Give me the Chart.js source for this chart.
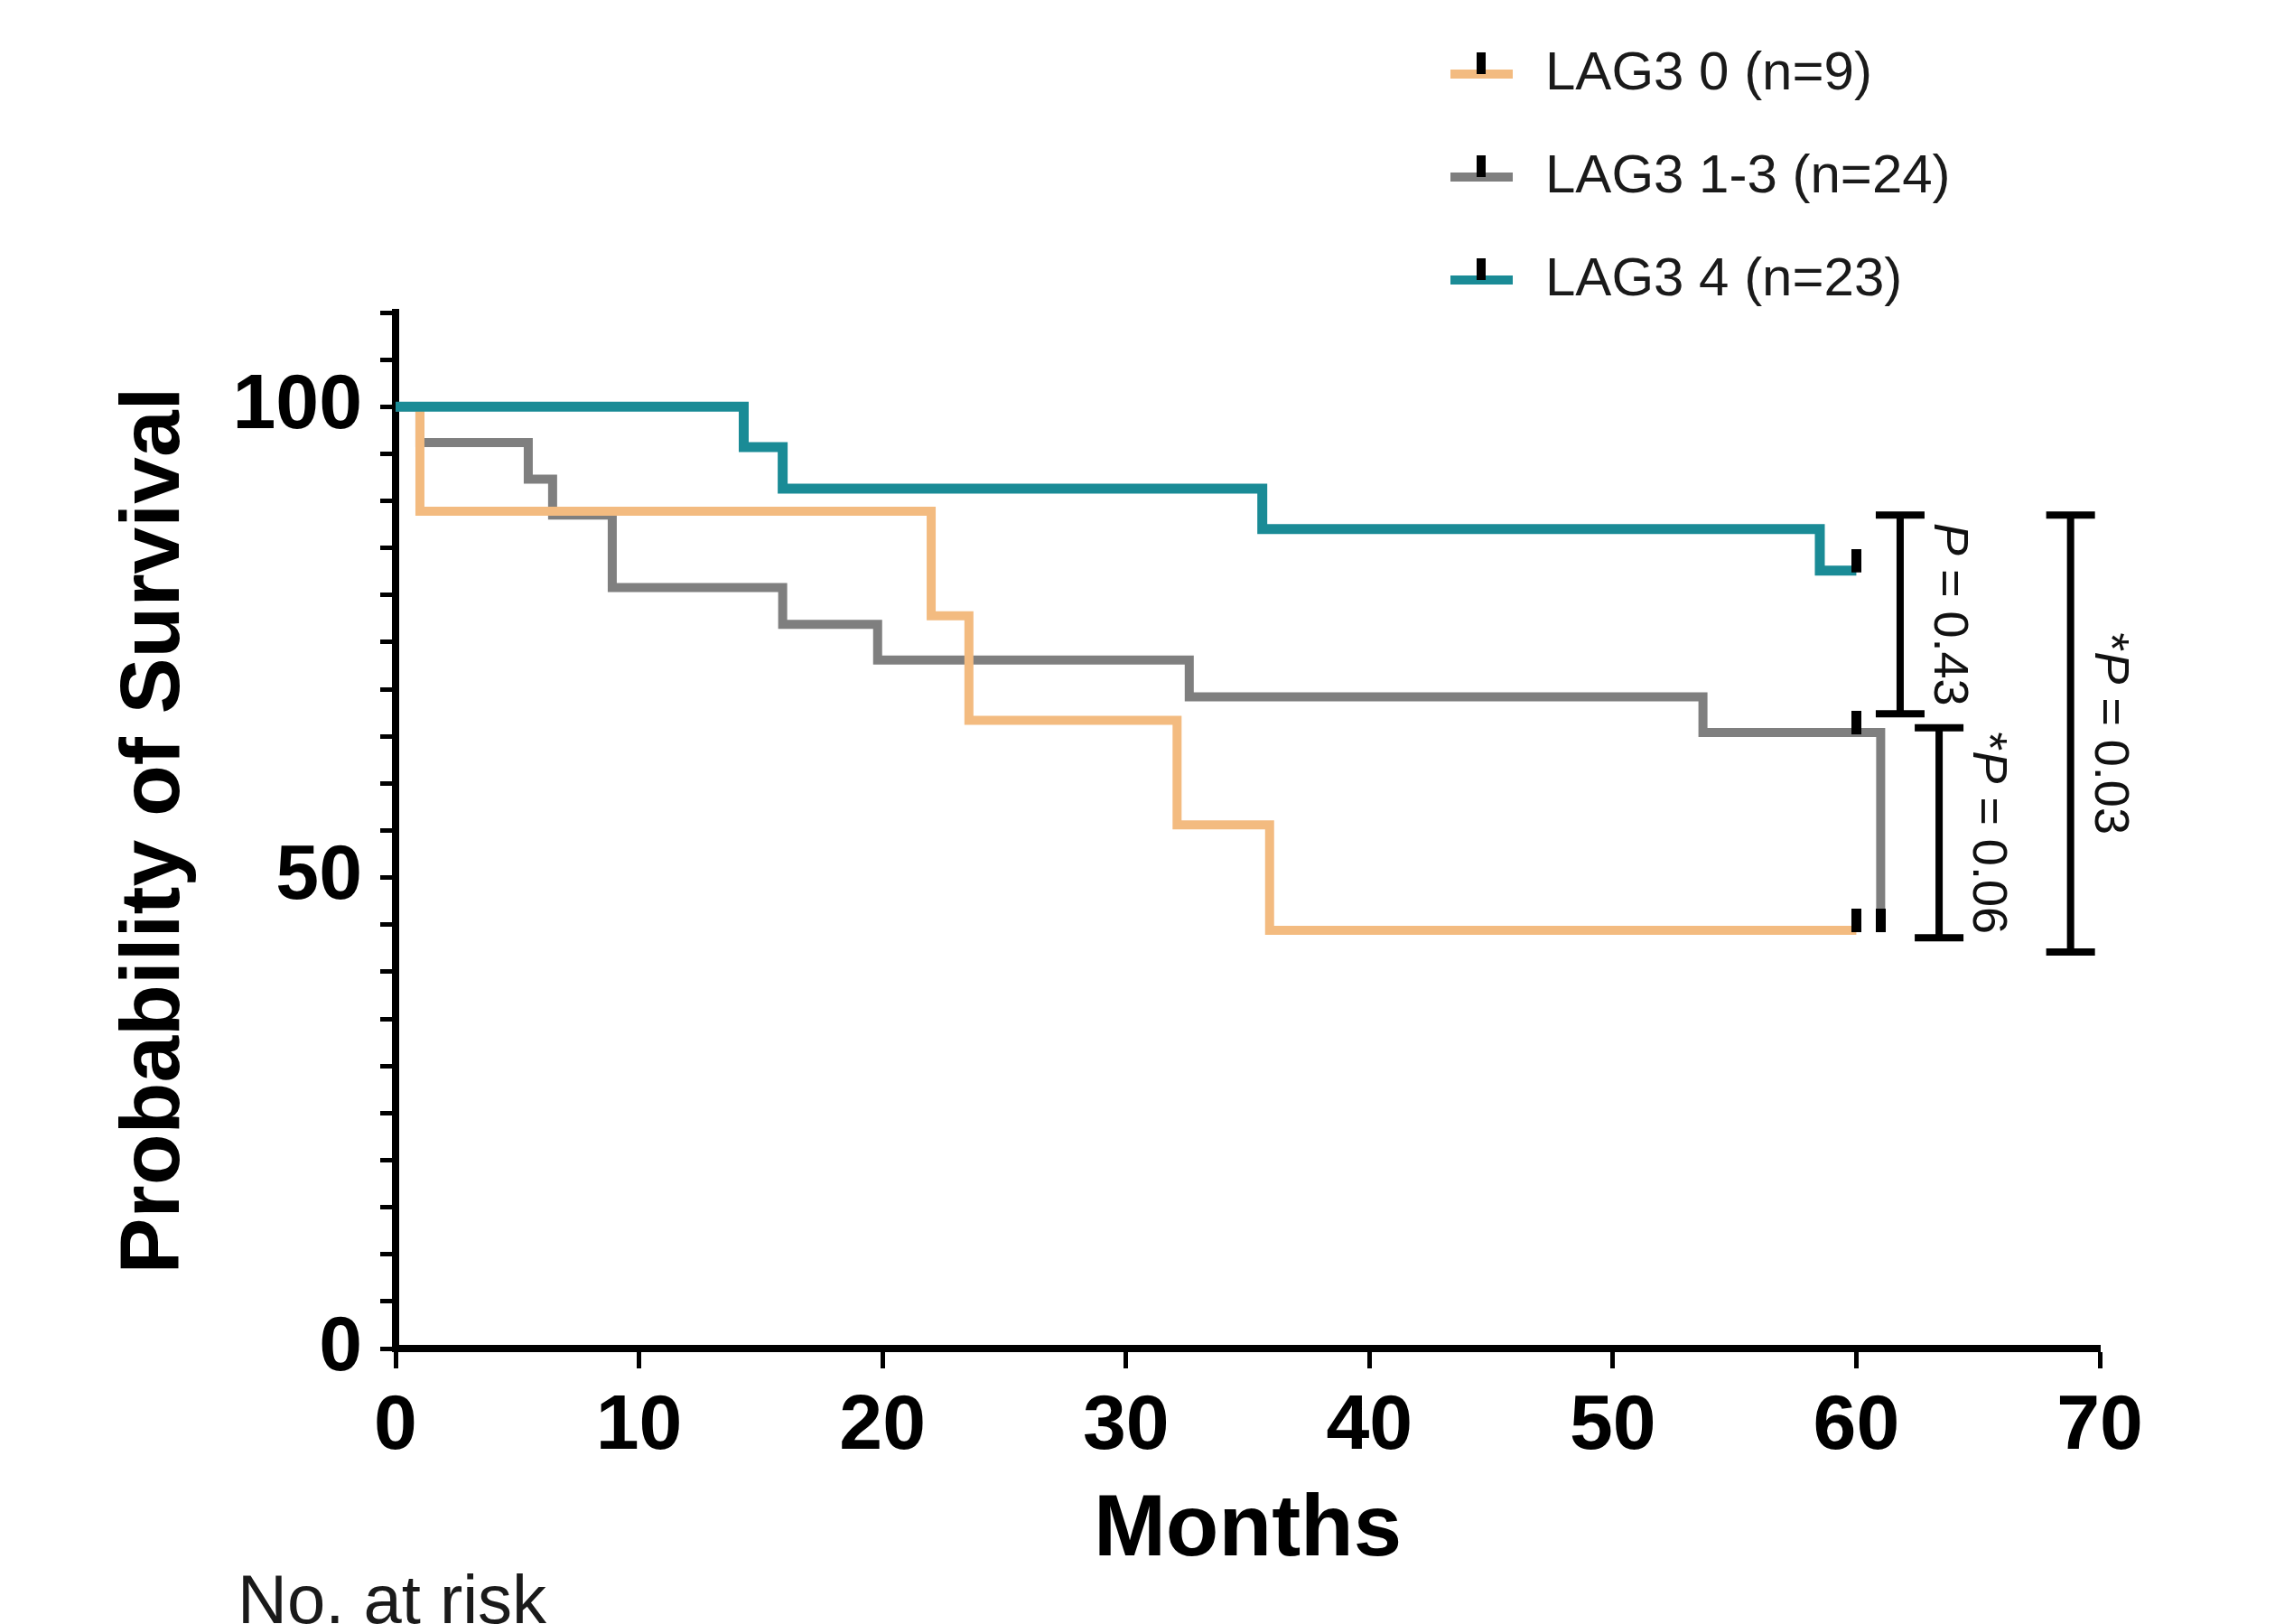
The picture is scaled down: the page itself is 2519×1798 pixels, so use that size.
<!DOCTYPE html>
<html>
<head>
<meta charset="utf-8">
<script src="https://cdn.jsdelivr.net/npm/chart.js"></script>
<style>
  html, body { margin: 0; padding: 0; background: #fff; }
  canvas { display: block; }
</style>
</head>
<body>
<canvas id="km" width="2519" height="1798"></canvas>
<script>
// Kaplan-Meier curves: months and % surviving at each step
const lag0Months = [0, 1.0, 22.0, 23.55, 32.1, 35.9, 60]
const lag0Surv = [100, 88.9, 77.8, 66.7, 55.6, 44.4, 44.4]
const lag13Months = [0, 1.0, 5.45, 6.45, 8.9, 15.9, 19.8, 32.6, 53.7, 61.0]
const lag13Surv = [100, 96.2, 92.3, 88.5, 80.8, 76.9, 73.1, 69.2, 65.4, 44.4]
const lag4Months = [0, 14.3, 15.9, 35.6, 58.5, 60]
const lag4Surv = [100, 95.7, 91.3, 87.0, 82.6, 82.6]

// censored cases
const lag0CensorMonths = [60]
const lag0CensorSurv = [44.4]
const lag13CensorMonths = [60, 61.0]
const lag13CensorSurv = [65.4, 44.4]
const lag4CensorMonths = [60]
const lag4CensorSurv = [82.6]

const seriesLabels = ['LAG3 0 (n=9)', 'LAG3 1-3 (n=24)', 'LAG3 4 (n=23)']
const seriesColors = ['#f3bb80', '#7f7f7f', '#1a8b96']
const yTickLabels = [0, 50, 100]

// pairwise comparisons: label, bracket x (months), low/high survival
const pTexts = ['P = 0.43', '*P = 0.06', '*P = 0.03']
const pBracketMonths = [61.8, 63.4, 68.8]
const pLow = [67.4, 43.6, 42.1]
const pHigh = [88.5, 65.9, 88.5]

const FONT = '"Liberation Sans", Arial, Helvetica, sans-serif'

const zip = (xs, ys) => xs.map((x, i) => ({x: x, y: ys[i]}))

// censor tick: black bar sitting on top of the line
function censorMark() {
    const c = document.createElement('canvas')
    c.width = 11
    c.height = 48
    const g = c.getContext('2d')
    g.fillStyle = '#000'
    g.fillRect(0, 0, 11, 26)
    return c
}
const mark = censorMark()

const curves = [
    [lag0Months, lag0Surv, lag0CensorMonths, lag0CensorSurv, 2],
    [lag13Months, lag13Surv, lag13CensorMonths, lag13CensorSurv, 3],
    [lag4Months, lag4Surv, lag4CensorMonths, lag4CensorSurv, 1]
]

const datasets = []
curves.forEach((c, i) => {
    datasets.push({
        type: 'line',
        label: seriesLabels[i],
        data: zip(c[0], c[1]),
        borderColor: seriesColors[i],
        borderWidth: i === 2 ? 11 : 10,
        stepped: true,
        pointRadius: 0,
        fill: false,
        order: c[4]
    })
    datasets.push({
        type: 'scatter',
        label: seriesLabels[i] + ' censored',
        data: zip(c[2], c[3]),
        pointStyle: mark,
        pointRadius: 5,
        order: 0
    })
})

const annotations = {
    id: 'annotations',
    afterDraw(chart) {
        const {ctx} = chart
        const x = chart.scales.x, y = chart.scales.y
        ctx.save()

        // brackets + rotated p values
        pTexts.forEach((t, i) => {
            const bx = x.getPixelForValue(pBracketMonths[i])
            const top = y.getPixelForValue(pHigh[i])
            const bot = y.getPixelForValue(pLow[i])
            const cap = 27
            ctx.strokeStyle = '#000'
            ctx.lineWidth = 8
            ctx.beginPath()
            ctx.moveTo(bx, top); ctx.lineTo(bx, bot)
            ctx.moveTo(bx - cap, top); ctx.lineTo(bx + cap, top)
            ctx.moveTo(bx - cap, bot); ctx.lineTo(bx + cap, bot)
            ctx.stroke()

            const star = t.startsWith('*') ? '*' : ''
            const rest = t.slice(t.indexOf('P') + 1)
            const parts = [[star, '54px ' + FONT], ['P', 'italic 54px ' + FONT], [rest, '54px ' + FONT]]
            let total = 0
            parts.forEach(p => { ctx.font = p[1]; total += ctx.measureText(p[0]).width })
            ctx.save()
            ctx.translate(bx + (i === 2 ? 42 : 53), (top + bot) / 2)
            ctx.rotate(Math.PI / 2)
            ctx.fillStyle = '#111'
            ctx.textBaseline = 'middle'
            ctx.textAlign = 'left'
            let cx = -total / 2
            parts.forEach(p => {
                ctx.font = p[1]
                ctx.fillText(p[0], cx, 0)
                cx += ctx.measureText(p[0]).width
            })
            ctx.restore()
        })

        // legend, stacked at top right
        seriesLabels.forEach((lab, i) => {
            const ly = 82 + i * 114
            ctx.strokeStyle = seriesColors[i]
            ctx.lineWidth = 10
            ctx.beginPath()
            ctx.moveTo(1606, ly); ctx.lineTo(1675, ly)
            ctx.stroke()
            ctx.fillStyle = '#000'
            ctx.fillRect(1635, ly - 24, 10, 24)
            ctx.fillStyle = '#1a1a1a'
            ctx.font = '60px ' + FONT
            ctx.textBaseline = 'middle'
            ctx.textAlign = 'left'
            ctx.fillText(lab, 1711, ly)
        })

        ctx.fillStyle = '#1a1a1a'
        ctx.font = '76px ' + FONT
        ctx.textBaseline = 'alphabetic'
        ctx.fillText('No. at risk', 263, 1797)
        ctx.restore()
    }
}

new Chart(document.getElementById('km'), {
    type: 'line',
    data: {datasets: datasets},
    options: {
        responsive: false,
        animation: false,
        devicePixelRatio: 1,
        layout: {padding: {left: 117, right: 194, top: 346, bottom: 0}},
        plugins: {
            legend: {display: false},
            tooltip: {enabled: false}
        },
        scales: {
            x: {
                type: 'linear',
                min: 0,
                max: 70,
                ticks: {
                    stepSize: 10,
                    autoSkip: false,
                    maxRotation: 0,
                    padding: 14,
                    color: '#000',
                    font: {family: FONT, size: 86, weight: 'bold'}
                },
                grid: {drawOnChartArea: false, drawTicks: true, tickLength: 22, tickWidth: 5, tickColor: '#000'},
                border: {display: true, color: '#000', width: 8},
                title: {
                    display: true,
                    text: 'Months',
                    color: '#000',
                    font: {family: FONT, size: 96, weight: 'bold'},
                    padding: {top: 0, bottom: 45}
                },
                afterFit: s => { s.height = 305 }
            },
            y: {
                type: 'linear',
                min: 0,
                max: 110,
                ticks: {
                    stepSize: 5,
                    autoSkip: false,
                    padding: 20,
                    color: '#000',
                    font: {family: FONT, size: 86, weight: 'bold'},
                    callback: v => yTickLabels.includes(v) ? String(v) : ''
                },
                grid: {drawOnChartArea: false, drawTicks: true, tickLength: 17, tickWidth: 5, tickColor: '#000'},
                border: {display: true, color: '#000', width: 8},
                title: {
                    display: true,
                    text: 'Probability of Survival',
                    color: '#000',
                    font: {family: FONT, size: 93, weight: 'bold'},
                    padding: {top: 0, bottom: 0}
                },
                afterFit: s => { s.width = 321 }
            }
        }
    },
    plugins: [annotations]
})
</script>
</body>
</html>
